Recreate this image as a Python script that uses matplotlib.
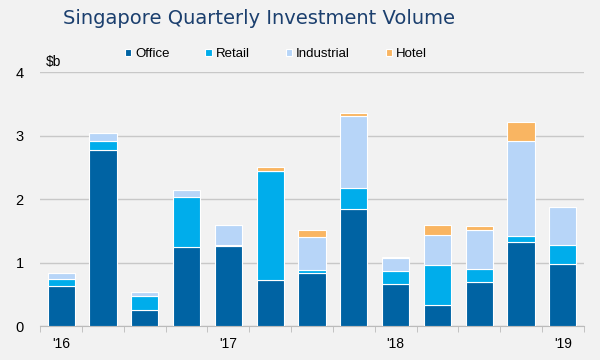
import matplotlib.pyplot as plt
import numpy as np

quarters = ["Q1'16", "Q2'16", "Q3'16", "Q4'16", "Q1'17", "Q2'17", "Q3'17",
            "Q4'17", "Q1'18", "Q2'18", "Q3'18", "Q4'18", "Q1'19"]
office = [0.63, 2.78, 0.25, 1.25, 1.26, 0.72, 0.84, 1.85, 0.66, 0.34, 0.69, 1.32, 0.98]
retail = [0.11, 0.14, 0.22, 0.78, 0.01, 1.72, 0.05, 0.33, 0.21, 0.62, 0.21, 0.10, 0.29]
industrial = [0.10, 0.12, 0.07, 0.11, 0.32, 0.00, 0.51, 1.12, 0.20, 0.48, 0.62, 1.49, 0.60]
hotel = [0.00, 0.00, 0.00, 0.00, 0.00, 0.07, 0.12, 0.05, 0.02, 0.15, 0.06, 0.31, 0.00]
year_ticks = [0, 4, 8, 12]
year_labels = ["'16", "'17", "'18", "'19"]

colors = {"Office": "#0063a3", "Retail": "#00adeb", "Industrial": "#b7d5f8", "Hotel": "#f9b562"}
bg = "#f2f2f2"
plt.rcParams["font.family"] = ["Liberation Sans", "DejaVu Sans"]

fig = plt.figure(figsize=(6, 3.6), dpi=100, facecolor=bg)
ax = fig.add_axes([0.067, 0.094, 0.906, 0.706], facecolor=bg)

x = np.arange(len(quarters))
bottom = np.zeros(len(quarters))
for name, vals in [("Office", office), ("Retail", retail),
                   ("Industrial", industrial), ("Hotel", hotel)]:
    ax.bar(x, vals, 0.65, bottom=bottom, color=colors[name], label=name,
           edgecolor="white", linewidth=0.8, zorder=3)
    bottom += np.array(vals)

ax.set_xlim(-0.5, 12.5)
ax.set_ylim(0, 4)
ax.set_yticks([0, 1, 2, 3, 4])
ax.yaxis.grid(True, color="#c8c8c8", linewidth=1)
ax.tick_params(axis="y", length=0, labelsize=10.5, pad=12)
ax.set_xticks(year_ticks)
ax.set_xticklabels(year_labels, fontsize=10)
ax.set_xticks(np.arange(-0.5, 13, 1), minor=True)
ax.tick_params(axis="x", which="major", length=0, pad=8)
ax.tick_params(axis="x", which="minor", length=4, color="#bbbbbb")
for s in ["top", "right", "left"]:
    ax.spines[s].set_visible(False)
ax.spines["bottom"].set_color("#bbbbbb")

ax.text(0.01, 1.01, "$b", transform=ax.transAxes, fontsize=10, ha="left", va="bottom")

fig.text(0.432, 0.948, "Singapore Quarterly Investment Volume", ha="center", va="center",
         fontsize=14, color="#1b3f6e", family="DejaVu Sans", weight="medium")
fig.legend(loc="center", bbox_to_anchor=(0.46, 0.85), ncol=4, frameon=False,
           fontsize=9.5, handlelength=0.5, handleheight=0.5, handletextpad=0.3,
           columnspacing=2.7)

fig.savefig("out.png", dpi=100, facecolor=bg)
